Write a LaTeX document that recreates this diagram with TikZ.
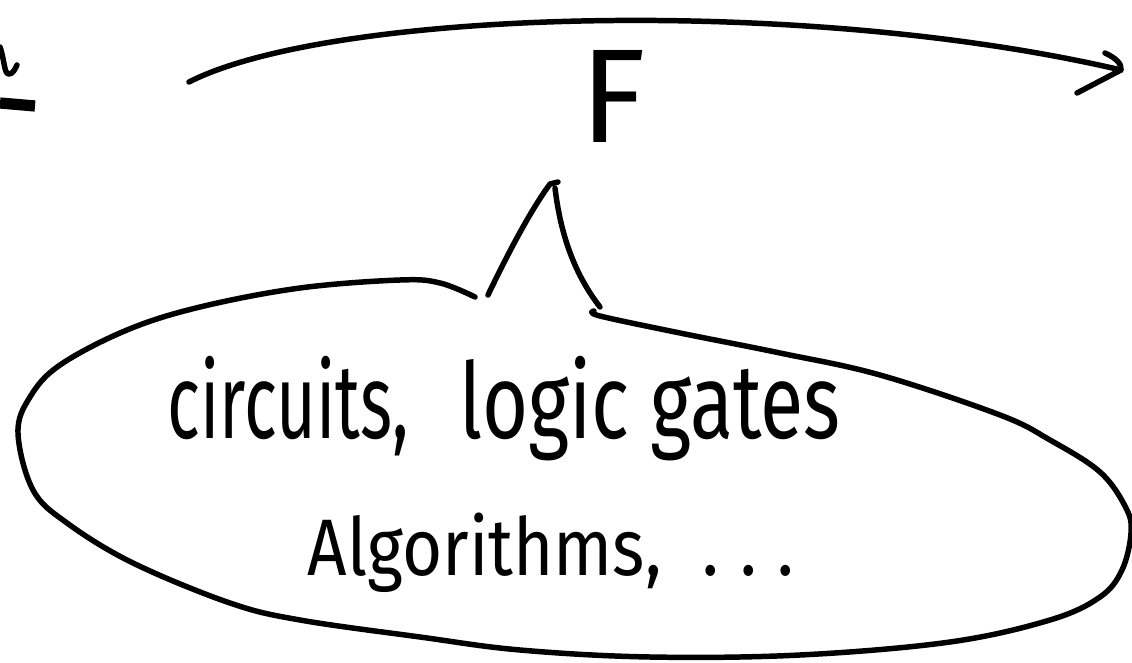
\documentclass[tikz,border=0pt]{standalone}
\usepackage{fontspec}
\usepackage{graphicx}
\setmainfont{Fira Sans}
\newcommand{\narrowtext}[2]{\scalebox{#1}[1]{#2}}
\tikzset{
  hand/.style={font=\fontsize{#1}{#1}\selectfont, inner sep=0pt},
}
\begin{document}
\begin{tikzpicture}[x=0.025cm, y=-0.025cm, line width=3.9pt, line cap=round, line join=round]
  \useasboundingbox (0,0) rectangle (1132,663);
  % 왼쪽 위에 잘린 글자와 밑줄
  \draw (0,47) .. controls (5,62) and (4,74) .. (9,74) .. controls (13,74) and (15,69) .. (17,65);
  \draw[line width=8pt, line cap=butt] (0,103) -- (35,106);
  % 사상 F 를 나타내는 화살표
  \coordinate (arrowstart) at (189,82);
  \coordinate (arrowtip) at (1121,70);
  \draw (arrowstart) .. controls (330,10) and (800,-5) .. (arrowtip);
  \draw (1105,53) .. controls (1116,58) and (1122,64) .. (arrowtip) -- (1077,93);
  \node[hand=95] (F) at (613,96) {F};
  % 말풍선 꼬리
  \draw (488,295) .. controls (512,245) and (533,207) .. (550,184) -- (558,182);
  \draw (555,188) .. controls (561,238) and (576,276) .. (600,307);
  % 말풍선
  \draw plot[smooth, tension=0.6] coordinates {
    (594,311) (600,316) (680,333) (780,353) (880,375) (1000,415) (1050,440)
    (1100,472) (1126,508) (1131,533) (1122,570) (1100,597) (1050,620)
    (950,642) (800,655) (650,657) (520,650) (420,637) (300,620) (230,603)
    (133,563) (67,523) (33,490) (18,433) (30,397) (60,365) (127,330)
    (200,307) (300,288) (400,280) (440,283) (475,297)};
  % 말풍선 안의 글
  \node[hand=75, anchor=base west] (gates) at (165,438)
    {\narrowtext{0.65}{circuits,}\hspace{36pt}\narrowtext{0.75}{logic gates}};
  \node[hand=57, anchor=base west] (algo) at (305,575)
    {\narrowtext{0.86}{Algorithms,\hspace{0.6em}.\hspace{0.3em}.\hspace{0.3em}.}};
\end{tikzpicture}
\end{document}
